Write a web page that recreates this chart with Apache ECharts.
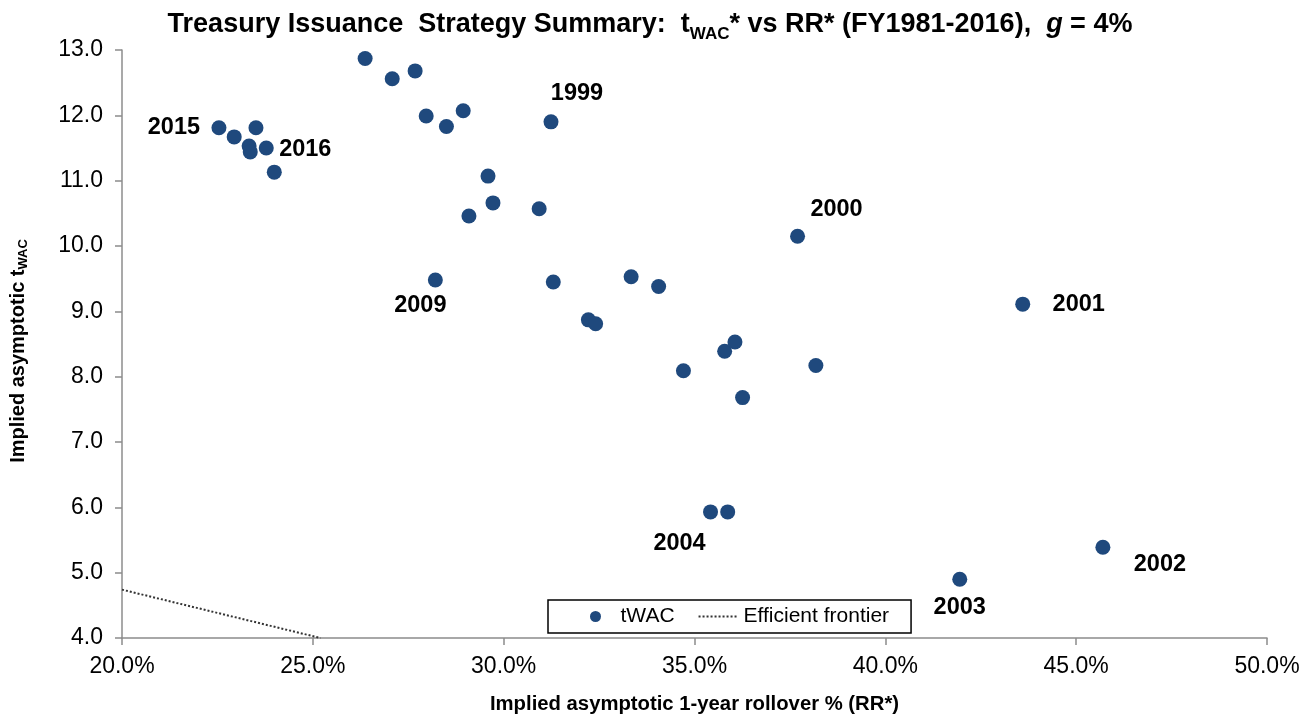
<!DOCTYPE html>
<html>
  <head>
    <meta charset="utf-8" />
    <script src="https://cdn.jsdelivr.net/npm/echarts@6/dist/echarts.min.js"></script>
  </head>
  <body style="margin: 0">
    <div id="main" style="width: 1300px; height: 715px"></div>

    <script type="text/javascript">
      // implied asymptotic 1-year rollover % (RR*)
      const rr = [
        22.54, 22.94, 23.33, 23.36, 23.51, 23.78, 23.99,
        26.37, 27.08, 27.68, 27.97, 28.50, 28.94, 31.24,
        29.59, 29.72, 29.09, 30.93, 28.21, 31.30, 33.34, 34.06,
        32.22, 32.41, 34.71, 35.79, 36.06, 36.26, 38.18,
        37.70, 43.60, 35.42, 35.87, 41.95, 45.70
      ];
      // implied asymptotic tWAC
      const twac = [
        11.81, 11.67, 11.53, 11.44, 11.81, 11.50, 11.13,
        12.87, 12.56, 12.68, 11.99, 11.83, 12.07, 11.90,
        11.07, 10.66, 10.46, 10.57, 9.48, 9.45, 9.53, 9.38,
        8.87, 8.81, 8.09, 8.39, 8.53, 7.68, 8.17,
        10.15, 9.11, 5.93, 5.93, 4.90, 5.39
      ];
      // year labels shown on the chart ('' = no label)
      const pointLabels = [
        "2015", "", "", "", "", "2016", "",
        "", "", "", "", "", "", "1999",
        "", "", "", "", "2009", "", "", "",
        "", "", "", "", "", "", "",
        "2000", "2001", "2004", "", "2003", "2002"
      ];
      // efficient frontier
      const frontierX = [20.0, 25.2];
      const frontierY = [4.74, 4.0];

      // label offsets from the point centre
      const labelOffset = {
        2015: [-45, 0],
        2016: [39, 2],
        1999: [26, -28],
        2000: [39, -27],
        2001: [56, 0],
        2009: [-15, 26],
        2004: [-31, 32],
        2003: [0, 28],
        2002: [57, 17],
      };

      const font = "'Liberation Sans', Arial, sans-serif";

      const scatterData = rr.map((x, i) => {
        const item = { value: [x, twac[i]] };
        const lab = pointLabels[i];
        if (lab) {
          item.label = {
            show: true,
            position: "inside",
            offset: labelOffset[lab],
            formatter: lab,
            color: "#000",
            fontFamily: font,
            fontWeight: "bold",
            fontSize: 23.5,
          };
        }
        return item;
      });

      var option = {
        animation: false,
        backgroundColor: "#fff",
        title: {
          text:
            "{a|Treasury Issuance  Strategy Summary:  t}{s|WAC}{a|* vs RR* (FY1981-2016),  }{i|g}{a| = 4%}",
          left: "center",
          top: 2,
          textStyle: {
            rich: {
              a: { fontFamily: font, fontWeight: "bold", fontSize: 27, color: "#000", lineHeight: 36 },
              s: { fontFamily: font, fontWeight: "bold", fontSize: 17, color: "#000", verticalAlign: "bottom", lineHeight: 36 },
              i: { fontFamily: font, fontWeight: "bold", fontStyle: "italic", fontSize: 27, color: "#000", lineHeight: 36 },
            },
          },
        },
        legend: {
          left: 548,
          top: 600,
          orient: "horizontal",
          backgroundColor: "#fff",
          borderColor: "#000",
          borderWidth: 1.5,
          borderRadius: 0,
          padding: [6, 22, 6, 42],
          itemWidth: 40,
          itemHeight: 11,
          itemGap: 23,
          textStyle: { fontFamily: font, fontSize: 21, color: "#000" },
          data: [
            { name: "tWAC", icon: "circle" },
            { name: "Efficient frontier", itemStyle: { opacity: 0 } },
          ],
        },
        grid: { left: 122, right: 33, top: 50, bottom: 77, outerBoundsMode: "none" },
        xAxis: {
          type: "value",
          min: 20,
          max: 50,
          interval: 5,
          name: "Implied asymptotic 1-year rollover % (RR*)",
          nameLocation: "middle",
          nameGap: 56,
          nameTextStyle: { fontFamily: font, fontWeight: "bold", fontSize: 20.3, color: "#000" },
          axisLine: { show: true, lineStyle: { color: "#8c8c8c", width: 1.5 } },
          axisTick: { show: true, length: 7, lineStyle: { color: "#8c8c8c", width: 1.5 } },
          axisLabel: {
            margin: 17,
            fontFamily: font,
            fontSize: 23,
            color: "#000",
            formatter: (v) => v.toFixed(1) + "%",
          },
          splitLine: { show: false },
        },
        yAxis: {
          type: "value",
          min: 4,
          max: 13,
          interval: 1,
          name: "{a|Implied asymptotic t}{s|WAC}",
          nameLocation: "middle",
          nameGap: 92,
          nameTextStyle: {
            padding: [0, 14, 0, 0],
            rich: {
              a: { fontFamily: font, fontWeight: "bold", fontSize: 20, color: "#000", lineHeight: 24 },
              s: { fontFamily: font, fontWeight: "bold", fontSize: 13, color: "#000", verticalAlign: "bottom", lineHeight: 24 },
            },
          },
          axisLine: { show: true, lineStyle: { color: "#8c8c8c", width: 1.5 } },
          axisTick: { show: true, length: 7, lineStyle: { color: "#8c8c8c", width: 1.5 } },
          axisLabel: {
            margin: 19,
            fontFamily: font,
            fontSize: 23,
            color: "#000",
            formatter: (v) => v.toFixed(1),
          },
          splitLine: { show: false },
        },
        series: [
          {
            name: "tWAC",
            type: "scatter",
            symbol: "circle",
            symbolSize: 15,
            itemStyle: { color: "#1F497D", opacity: 1 },
            data: scatterData,
            z: 3,
          },
          {
            name: "Efficient frontier",
            type: "line",
            symbol: "none",
            lineStyle: { color: "#333", width: 2, type: "dotted" },
            itemStyle: { color: "#333" },
            data: frontierX.map((x, i) => [x, frontierY[i]]),
            z: 2,
          },
        ],
      };

      const myChart = echarts.init(document.getElementById("main"));
      myChart.setOption(option);
    </script>
  </body>
</html>
